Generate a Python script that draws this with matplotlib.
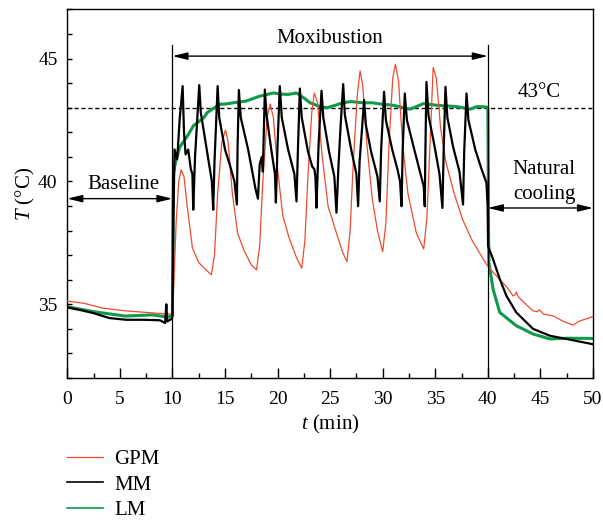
import matplotlib
matplotlib.use("Agg")
import matplotlib.pyplot as plt
from matplotlib.ticker import MultipleLocator
from matplotlib.lines import Line2D

plt.rcParams['font.family'] = ['Liberation Serif', 'DejaVu Serif']
plt.rcParams['mathtext.fontset'] = 'custom'
plt.rcParams['mathtext.rm'] = 'Liberation Serif'
plt.rcParams['mathtext.it'] = 'Liberation Serif:italic'

# ---------------- data ----------------
gpm_t = [0.0, 1.6, 3.4, 5.6, 7.5, 9.7, 10.0, 10.15, 10.35, 10.6, 10.82, 11.1, 11.4, 11.9,
         12.5, 13.2, 13.7, 14.0, 14.3, 14.7, 15.05, 15.3, 15.7, 16.2, 16.8, 17.5, 18.0,
         18.3, 18.6, 19.0, 19.3, 19.6, 20.0, 20.5, 21.1, 21.8, 22.3, 22.6, 22.9, 23.25,
         23.5, 23.8, 24.2, 24.8, 25.6, 26.2, 26.6, 26.9, 27.2, 27.6, 27.85, 28.1, 28.5,
         29.0, 29.5, 30.0, 30.3, 30.6, 30.95, 31.2, 31.5, 31.9, 32.4, 33.2, 33.9, 34.2,
         34.5, 34.8, 35.1, 35.5, 36.0, 36.8, 37.6, 38.5, 39.2, 39.87, 40.5, 41.1, 41.8,
         42.4, 42.6, 42.72, 42.9, 43.5, 44.3, 44.7, 44.9, 45.3, 46.2, 47.2, 48.1, 48.6,
         49.3, 50.0]
gpm_T = [35.13, 35.04, 34.84, 34.73, 34.67, 34.6, 34.6, 36.0, 38.3, 40.0, 40.47, 40.2, 39.0, 37.3,
         36.7, 36.4, 36.2, 37.0, 39.5, 41.6, 42.1, 41.6, 39.5, 37.9, 37.2, 36.6, 36.4,
         37.4, 40.0, 42.6, 43.15, 42.6, 40.5, 38.6, 37.7, 36.9, 36.47, 37.6, 40.3, 42.8,
         43.6, 43.2, 41.2, 39.0, 37.9, 37.1, 36.74, 38.0, 40.8, 43.6, 44.5, 43.9, 41.5,
         39.3, 38.0, 37.14, 38.3, 41.5, 44.2, 44.77, 44.1, 41.5, 39.5, 37.9, 37.25, 38.5,
         41.5, 44.64, 44.2, 42.2, 40.8, 39.5, 38.45, 37.6, 37.1, 36.62, 36.3, 36.03, 35.7,
         35.34, 35.4, 35.5, 35.3, 35.05, 34.73, 34.7, 34.78, 34.6, 34.53, 34.3, 34.15, 34.3,
         34.4, 34.5]

mm_t = [0.0, 1.2, 2.5, 4.0, 5.6, 7.2, 8.8, 9.3, 9.42, 9.5, 9.9, 10.0,
        10.1, 10.2, 10.45, 10.7, 10.97,
        11.1, 11.25, 11.5, 11.75, 11.9, 11.98, 12.15, 12.55,
        12.7, 13.3, 13.75, 13.88, 14.0, 14.3,
        14.45, 15.0, 15.44, 15.9, 16.13, 16.2, 16.32,
        16.5, 17.2, 17.9, 18.13, 18.3, 18.5, 18.6, 18.79,
        18.95, 19.4, 19.75, 19.84, 20.0, 20.21,
        20.4, 21.0, 21.6, 21.8, 21.95, 22.12,
        22.3, 22.9, 23.3, 23.5, 23.6, 23.7, 23.9, 24.18,
        24.35, 24.9, 25.4, 25.6, 25.8, 26.0, 26.24,
        26.4, 27.0, 27.5, 27.66, 27.8, 28.23,
        28.4, 28.9, 29.5, 29.72, 29.85, 30.13,
        30.3, 30.9, 31.4, 31.65, 31.79, 31.9, 32.1,
        32.3, 33.0, 33.6, 33.9, 34.0, 34.05, 34.16,
        34.35, 34.9, 35.4, 35.68, 35.8, 35.97,
        36.15, 36.7, 37.3, 37.64, 37.75, 37.97,
        38.15, 38.8, 39.4, 39.87,
        39.98, 40.02, 40.5, 41.13, 41.77, 42.7, 44.3, 45.9, 47.47, 49.94]
mm_T = [34.87, 34.77, 34.64, 34.44, 34.37, 34.37, 34.35, 34.24, 35.0, 34.3, 34.4, 34.5,
        38.5, 41.3, 40.9, 42.6, 43.88,
        42.0, 41.1, 41.3, 40.5, 40.3, 38.85, 41.0, 43.92,
        42.8, 41.2, 40.0, 38.85, 40.8, 43.88,
        42.6, 41.3, 40.7, 40.0, 39.06, 41.5, 43.72,
        42.6, 41.3, 39.7, 39.3, 40.7, 41.0, 40.4, 43.74,
        42.7, 41.3, 40.3, 39.14, 41.5, 43.88,
        42.6, 41.3, 40.3, 39.19, 41.5, 43.78,
        42.6, 41.2, 40.6, 40.5, 40.2, 38.93, 41.5, 43.69,
        42.6, 41.2, 40.2, 38.73, 40.7, 42.3, 43.96,
        42.7, 41.3, 40.3, 38.99, 40.8, 43.31,
        42.3, 41.2, 40.2, 39.19, 41.3, 43.65,
        42.5, 41.3, 40.5, 40.0, 38.99, 41.3, 43.58,
        42.5, 41.3, 40.3, 39.8, 38.99, 41.0, 44.05,
        42.7, 41.5, 40.3, 38.92, 41.3, 43.85,
        42.6, 41.4, 40.4, 39.06, 41.2, 43.58,
        42.5, 41.3, 40.5, 39.94,
        39.0, 37.37, 36.83, 36.03, 35.34, 34.67, 34.0, 33.72, 33.59, 33.38]

lm_t = [0.0, 2.5, 5.5, 8.1, 9.6, 10.0, 10.05, 10.1, 10.3, 10.7, 11.5, 12.0, 13.0, 13.3,
        14.0, 14.5, 15.0, 15.8, 17.0, 18.3, 19.6, 20.5, 21.0, 21.8, 22.5, 23.1, 24.0,
        24.7, 25.5, 26.2, 27.0, 28.1, 29.0, 30.0, 31.0, 32.6, 33.9, 35.1, 36.1, 37.0,
        38.3, 39.0, 39.87, 40.0, 40.07, 40.1, 40.5, 41.13, 42.7, 44.3, 45.9, 47.5, 50.0]
lm_T = [34.9, 34.7, 34.52, 34.57, 34.48, 34.55, 38.5, 40.33, 40.8, 41.4, 41.9, 42.27, 42.6, 42.8,
        43.0, 43.14, 43.15, 43.2, 43.27, 43.47, 43.6, 43.55, 43.54, 43.6, 43.4, 43.2, 43.05,
        43.0, 43.1, 43.2, 43.25, 43.2, 43.2, 43.14, 43.1, 42.94, 43.17, 43.1, 43.07, 43.05,
        42.94, 43.05, 43.03, 43.0, 38.0, 36.69, 35.61, 34.67, 34.13, 33.79, 33.59, 33.62, 33.61]

series_names = ["GPM", "MM", "LM"]
x_ticks = [0, 5, 10, 15, 20, 25, 30, 35, 40, 45, 50]
y_ticks = [35, 40, 45]

RED = '#EE4B2E'
GREEN = '#0E9A48'

# ---------------- figure ----------------
fig = plt.figure(figsize=(6.03, 5.24), dpi=100)
ax = fig.add_axes([0.1116, 0.2786, 0.8718, 0.7034])

l_lm, = ax.plot(lm_t, lm_T, color=GREEN, lw=2.2, zorder=2)
l_gpm, = ax.plot(gpm_t, gpm_T, color=RED, lw=0.9, zorder=3)
l_mm, = ax.plot(mm_t, mm_T, color='black', lw=1.6, zorder=4)

ax.set_xlim(0, 50)
ax.set_ylim(32, 47)
ax.set_xticks(x_ticks)
ax.set_yticks(y_ticks)
ax.xaxis.set_minor_locator(MultipleLocator(2.5))
ax.yaxis.set_minor_locator(MultipleLocator(1))
ax.tick_params(axis='x', which='major', direction='in', length=7, width=1, labelsize=14, pad=9)
ax.tick_params(axis='x', which='minor', direction='in', length=3.5, width=1)
ax.tick_params(axis='y', which='both', direction='in', length=3.5, width=1, labelsize=14, pad=7)
for s in ax.spines.values():
    s.set_linewidth(1.0)

ax.set_xlabel(r'$t$ (min)', fontsize=15, labelpad=4)
ax.set_ylabel(r'$T$ (°C)', fontsize=15, labelpad=1)

# reference lines
ax.axhline(43, color='black', lw=1, ls=(0, (3, 2)), zorder=1)
ax.plot([10, 10], [32, 45.55], color='black', lw=0.9, zorder=5)
ax.plot([40, 40], [32, 45.55], color='black', lw=0.9, zorder=5)

arrow_kw = dict(arrowstyle='<|-|>,head_length=0.9,head_width=0.22', color='black', lw=1,
                shrinkA=0, shrinkB=0)
ax.annotate('', xy=(10, 45.1), xytext=(40, 45.1), arrowprops=arrow_kw)
ax.annotate('', xy=(0, 39.3), xytext=(10, 39.3), arrowprops=arrow_kw)
ax.annotate('', xy=(40, 38.92), xytext=(50, 38.92), arrowprops=arrow_kw)

ax.text(25, 45.8, 'Moxibustion', fontsize=15, ha='center', va='center')
ax.text(44.9, 43.62, '43°C', fontsize=15, ha='center', va='center')
ax.text(5.3, 39.87, 'Baseline', fontsize=15, ha='center', va='center')
ax.text(45.35, 40.5, 'Natural', fontsize=15, ha='center', va='center')
ax.text(45.35, 39.45, 'cooling', fontsize=15, ha='center', va='center')

handles = [Line2D([], [], color=RED, lw=0.9),
           Line2D([], [], color='black', lw=1.2),
           Line2D([], [], color=GREEN, lw=1.2)]
fig.legend(handles, series_names, loc='center left', bbox_to_anchor=(0.1106, 0.0745),
           frameon=False, fontsize=15, handlelength=1.75, handletextpad=0.55,
           labelspacing=0.28, borderpad=0, borderaxespad=0)

fig.savefig('out.png', dpi=100)
